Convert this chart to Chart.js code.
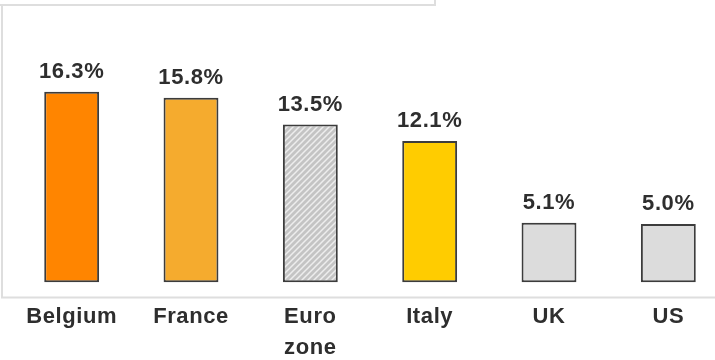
<!DOCTYPE html>
<html>
<head>
<meta charset="utf-8">
<script src="https://cdn.jsdelivr.net/npm/chart.js@4.4.0/dist/chart.umd.min.js"></script>
<style>
  html, body { margin: 0; padding: 0; background: #fff; overflow: hidden; }
  #wrap { position: relative; width: 730px; height: 367px; }
</style>
</head>
<body>
<div id="wrap"><canvas id="myChart"></canvas></div>
<script>
// dati del grafico
const paesi = ["Belgium", "France", ["Euro", "zone"], "Italy", "UK", "US"];
const valori = [16.3, 15.8, 13.5, 12.1, 5.1, 5.0];
const etichette = ["16.3%", "15.8%", "13.5%", "12.1%", "5.1%", "5.0%"];

// motivo a righe per l'Euro zone
function tratteggio() {
  const c = document.createElement("canvas");
  c.width = 6;
  c.height = 6;
  const ctx = c.getContext("2d");
  ctx.fillStyle = "#c4c4c4";
  ctx.fillRect(0, 0, 6, 6);
  ctx.strokeStyle = "#ededed";
  ctx.lineWidth = 1.5;
  ctx.beginPath();
  ctx.moveTo(-1, 7);
  ctx.lineTo(7, -1);
  ctx.moveTo(-4, 4);
  ctx.lineTo(4, -4);
  ctx.moveTo(2, 10);
  ctx.lineTo(10, 2);
  ctx.stroke();
  return c.getContext("2d").createPattern(c, "repeat");
}

const colori = ["#ff8500", "#f5ab2e", tratteggio(), "#ffcc00", "#dcdcdc", "#dcdcdc"];
const font = "'Liberation Sans', Arial, sans-serif";

// cornice grigia e percentuali sopra le barre
const cornice = {
  id: "cornice",
  beforeDraw(chart) {
    const ctx = chart.ctx;
    const fondo = chart.scales.y.getPixelForValue(chart.scales.y.min);
    ctx.letterSpacing = "0.6px";
    ctx.save();
    ctx.strokeStyle = "#dedede";
    ctx.lineWidth = 2;
    ctx.beginPath();
    ctx.moveTo(0, 5);
    ctx.lineTo(436, 5);
    ctx.moveTo(435, 0);
    ctx.lineTo(435, 5);
    ctx.moveTo(2, 5);
    ctx.lineTo(2, fondo);
    ctx.lineTo(715, fondo);
    ctx.stroke();
    ctx.restore();
  },
  afterDatasetsDraw(chart) {
    const ctx = chart.ctx;
    ctx.save();
    ctx.font = "bold 22px " + font;
    ctx.fillStyle = "#2e2e2e";
    ctx.textAlign = "center";
    ctx.textBaseline = "middle";
    chart.getDatasetMeta(0).data.forEach((bar, i) => {
      ctx.fillText(etichette[i], bar.x, bar.y - 20);
    });
    ctx.restore();
  },
};

const config = {
  type: "bar",
  data: {
    labels: paesi,
    datasets: [
      {
        data: valori,
        backgroundColor: colori,
        borderColor: "#3c3c3c",
        borderWidth: 2,
        borderSkipped: false,
        barPercentage: 0.46,
        categoryPercentage: 1,
      },
    ],
  },
  options: {
    responsive: true,
    maintainAspectRatio: false,
    animation: false,
    layout: { padding: { left: 12, right: 2, top: 10, bottom: 0 } },
    plugins: {
      legend: { display: false },
      tooltip: { enabled: false },
    },
    scales: {
      x: {
        grid: { display: false, drawTicks: false },
        border: { display: false },
        ticks: {
          color: "#2e2e2e",
          padding: 4,
          maxRotation: 0,
          font: { family: font, size: 22, weight: "bold", lineHeight: 1.4 },
        },
      },
      y: {
        display: false,
        min: -1.29,
        max: 23.3,
      },
    },
  },
  plugins: [cornice],
};

const myChart = new Chart(document.getElementById("myChart"), config);
</script>
</body>
</html>
